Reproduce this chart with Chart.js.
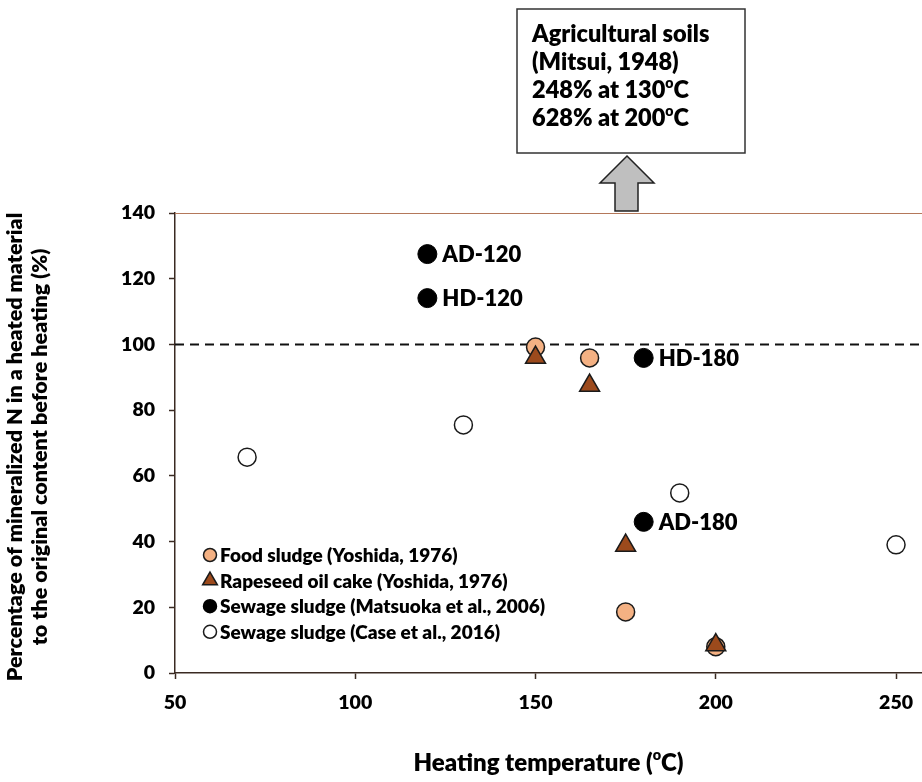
<!DOCTYPE html>
<html>
<head>
<meta charset="utf-8">
<title>Mineralized N after heating</title>
<script src="https://cdn.jsdelivr.net/npm/chart.js@4.4.0/dist/chart.umd.min.js"></script>
<style>
  html, body { margin: 0; padding: 0; background: #fff; }
  #wrap { width: 922px; height: 782px; position: relative; }
</style>
</head>
<body>
<div id="wrap"><canvas id="mineralChart" width="922" height="782"></canvas></div>
<script>
// Data (x = heating temperature in degC, y = %)
var foodX = [150, 165, 175, 200];
var foodY = [99.2, 95.9, 18.6, 8];
var rapeX = [150, 165, 175, 200];
var rapeY = [96, 87.5, 38.8, 8.5];
var matsuokaX = [120, 120, 180, 180];
var matsuokaY = [127.5, 114.1, 95.9, 46];
var matsuokaLabels = ['AD-120', 'HD-120', 'HD-180', 'AD-180'];
var caseX = [70, 130, 190, 250];
var caseY = [65.7, 75.5, 54.8, 39];
var refLineX = [50, 257.2];
var refLineY = [100, 100];
var seriesNames = [
	'Food sludge (Yoshida, 1976)',
	'Rapeseed oil cake (Yoshida, 1976)',
	'Sewage sludge (Matsuoka et al., 2006)',
	'Sewage sludge (Case et al., 2016)'
];
var boxLines = [
	[{t: 'Agricultural soils'}],
	[{t: '(Mitsui, 1948)'}],
	[{t: '248% at 130'}, {t: 'o', sup: true}, {t: 'C'}],
	[{t: '628% at 200'}, {t: 'o', sup: true}, {t: 'C'}]
];
var xTitle = [{t: 'Heating temperature ('}, {t: 'o', sup: true}, {t: 'C)'}];
var yTitle = ['Percentage of mineralized N in a heated material', 'to the original content before heating (%)'];

var FONT = 'Lato, "Open Sans", sans-serif';
var WEIGHT = '800';
var AXIS = '#3a2a22';

function toPoints(xs, ys) {
	return xs.map(function (x, i) { return {x: x, y: ys[i]}; });
}

// draw a run of text where some pieces are superscript
function drawRich(ctx, parts, x, y, size, align) {
	var widths = parts.map(function (p) {
		ctx.font = WEIGHT + ' ' + (p.sup ? size * 0.6 : size) + 'px ' + FONT;
		return ctx.measureText(p.t).width;
	});
	var total = widths.reduce(function (a, b) { return a + b; }, 0);
	var cx = align === 'center' ? x - total / 2 : x;
	ctx.textAlign = 'left';
	ctx.textBaseline = 'middle';
	parts.forEach(function (p, i) {
		ctx.font = WEIGHT + ' ' + (p.sup ? size * 0.6 : size) + 'px ' + FONT;
		ctx.fillText(p.t, cx, p.sup ? y - size * 0.3 : y);
		cx += widths[i];
	});
}

function drawMarker(ctx, style, r, x, y, fill, stroke, bw) {
	ctx.beginPath();
	if (style === 'triangle') {
		for (var k = 0; k < 3; k++) {
			var a = -Math.PI / 2 + k * 2 * Math.PI / 3;
			var px = x + Math.cos(a) * r, py = y + Math.sin(a) * r;
			if (k === 0) ctx.moveTo(px, py); else ctx.lineTo(px, py);
		}
		ctx.closePath();
	} else {
		ctx.arc(x, y, r, 0, Math.PI * 2);
	}
	ctx.fillStyle = fill;
	ctx.fill();
	ctx.lineWidth = bw;
	ctx.strokeStyle = stroke;
	ctx.stroke();
}

var decorPlugin = {
	id: 'decor',
	beforeDatasetsDraw: function (chart) {
		var ctx = chart.ctx, a = chart.chartArea;
		ctx.save();
		// top frame line of the plot area
		ctx.strokeStyle = '#b4785a';
		ctx.lineWidth = 1.2;
		ctx.beginPath();
		ctx.moveTo(a.left, a.top + 0.5);
		ctx.lineTo(a.right, a.top + 0.5);
		ctx.stroke();
		ctx.restore();
	},
	afterDraw: function (chart) {
		var ctx = chart.ctx, a = chart.chartArea;
		ctx.save();
		ctx.fillStyle = '#000';

		// labels beside the Matsuoka points
		var meta = chart.getDatasetMeta(2);
		ctx.font = WEIGHT + ' 22px ' + FONT;
		ctx.textAlign = 'left';
		ctx.textBaseline = 'middle';
		meta.data.forEach(function (el, i) {
			ctx.fillText(matsuokaLabels[i], el.x + 15, el.y + 1);
		});

		// legend inside the plot, bottom left
		var ds = chart.data.datasets;
		for (var i = 0; i < 4; i++) {
			var ly = 555 + i * 25.6;
			var d = ds[i];
			drawMarker(ctx, d.pointStyle, d.pointStyle === 'triangle' ? 8.5 : 6.5, 210, ly,
				d.pointBackgroundColor, d.pointBorderColor, 1.5);
			ctx.fillStyle = '#000';
			ctx.font = WEIGHT + ' 19px ' + FONT;
			ctx.textAlign = 'left';
			ctx.textBaseline = 'middle';
			ctx.fillText(seriesNames[i], 220, ly + 1);
		}

		// axis titles
		ctx.fillStyle = '#000';
		drawRich(ctx, xTitle, (a.left + a.right) / 2, 763, 24, 'center');
		ctx.save();
		ctx.translate(0, (a.top + a.bottom) / 2 + 4);
		ctx.rotate(-Math.PI / 2);
		ctx.font = WEIGHT + ' 21.5px ' + FONT;
		ctx.textAlign = 'center';
		ctx.textBaseline = 'middle';
		ctx.fillText(yTitle[0], 0, 15);
		ctx.fillText(yTitle[1], 0, 40);
		ctx.restore();

		// annotation box and block arrow above the plot
		ctx.fillStyle = '#fff';
		ctx.strokeStyle = '#333';
		ctx.lineWidth = 1.5;
		ctx.fillRect(517, 9, 228, 144);
		ctx.strokeRect(517, 9, 228, 144);
		ctx.fillStyle = '#000';
		boxLines.forEach(function (ln, j) {
			drawRich(ctx, ln, 532, 34 + j * 28.3, 23.5, 'left');
		});
		ctx.beginPath();
		ctx.moveTo(627, 156);
		ctx.lineTo(654, 183);
		ctx.lineTo(638, 183);
		ctx.lineTo(638, 211);
		ctx.lineTo(615, 211);
		ctx.lineTo(615, 183);
		ctx.lineTo(600, 183);
		ctx.closePath();
		ctx.fillStyle = '#bfbfbf';
		ctx.fill();
		ctx.strokeStyle = '#222';
		ctx.lineWidth = 1.5;
		ctx.stroke();
		ctx.restore();
	}
};

var ctx = document.getElementById('mineralChart');
var mineralChart = new Chart(ctx, {
	type: 'scatter',
	data: {
		datasets: [
			{
				label: seriesNames[0],
				data: toPoints(foodX, foodY),
				pointStyle: 'circle',
				pointRadius: 9,
				pointBackgroundColor: '#f4b183',
				pointBorderColor: '#1a1a1a',
				pointBorderWidth: 1.5,
				order: 3
			},
			{
				label: seriesNames[1],
				data: toPoints(rapeX, rapeY),
				pointStyle: 'triangle',
				pointRadius: 11.5,
				pointBackgroundColor: '#9c4a1c',
				pointBorderColor: '#1a1a1a',
				pointBorderWidth: 1.5,
				order: 2
			},
			{
				label: seriesNames[2],
				data: toPoints(matsuokaX, matsuokaY),
				pointStyle: 'circle',
				pointRadius: 9.5,
				pointBackgroundColor: '#000',
				pointBorderColor: '#000',
				pointBorderWidth: 1,
				order: 1
			},
			{
				label: seriesNames[3],
				data: toPoints(caseX, caseY),
				pointStyle: 'circle',
				pointRadius: 9,
				pointBackgroundColor: '#fff',
				pointBorderColor: '#1a1a1a',
				pointBorderWidth: 1.5,
				order: 1
			},
			{
				label: 'ref',
				data: toPoints(refLineX, refLineY),
				showLine: true,
				borderColor: '#111',
				borderWidth: 2,
				borderDash: [9, 6],
				pointRadius: 0,
				order: 9
			}
		]
	},
	options: {
		responsive: false,
		animation: false,
		devicePixelRatio: 1,
		layout: {autoPadding: false, padding: {top: 213, right: 0, bottom: 0, left: 0}},
		plugins: {
			legend: {display: false},
			tooltip: {enabled: false},
			title: {display: false}
		},
		scales: {
			x: {
				type: 'linear',
				min: 50,
				max: 257.2,
				afterFit: function (s) { s.height = 109; s.paddingRight = 0; s.paddingLeft = 0; },
				border: {color: AXIS, width: 1.5},
				grid: {drawOnChartArea: false, drawTicks: true, tickLength: 6, tickColor: AXIS, tickWidth: 1.5},
				ticks: {
					stepSize: 50,
					includeBounds: false,
					color: '#000',
					padding: 12,
					maxRotation: 0,
					font: {family: FONT, size: 19.5, weight: WEIGHT}
				}
			},
			y: {
				min: 0,
				max: 140,
				afterFit: function (s) { s.width = 175; s.paddingTop = 0; s.paddingBottom = 0; },
				border: {color: AXIS, width: 1.5},
				grid: {drawOnChartArea: false, drawTicks: true, tickLength: 6, tickColor: AXIS, tickWidth: 1.5},
				ticks: {
					stepSize: 20,
					color: '#000',
					padding: 14,
					font: {family: FONT, size: 19.5, weight: WEIGHT}
				}
			}
		}
	},
	plugins: [decorPlugin]
});
</script>
</body>
</html>
